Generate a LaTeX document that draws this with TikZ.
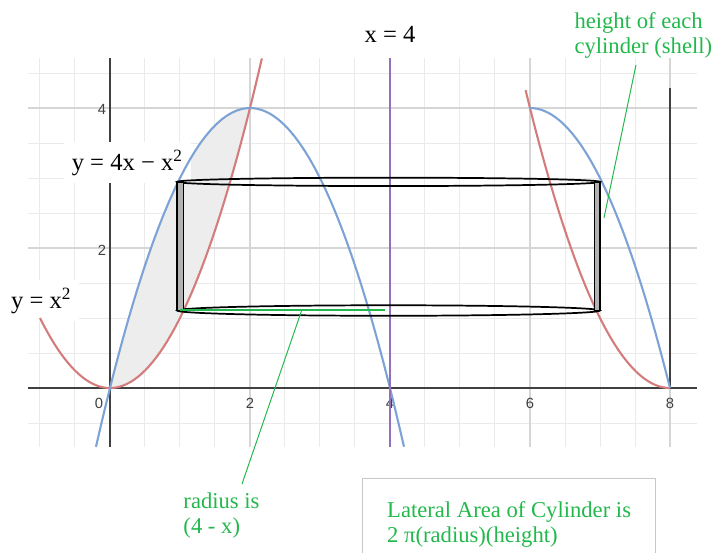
\documentclass[tikz,border=0pt]{standalone}
\usepackage{fontspec}
\setmainfont{Liberation Serif}
\newfontfamily\ticksans{Liberation Sans}
\usepackage{tikz}
\usetikzlibrary{positioning}
\definecolor{curvered}{RGB}{212,124,124}
\definecolor{curveblue}{RGB}{124,162,214}
\definecolor{linepurple}{RGB}{148,112,188}
\definecolor{notegreen}{RGB}{34,184,76}
\definecolor{gridminor}{RGB}{234,234,234}
\definecolor{gridmajor}{RGB}{214,214,214}
\definecolor{regionfill}{RGB}{237,237,237}
\definecolor{boxline}{RGB}{200,200,200}

\begin{document}
\begin{tikzpicture}[
  lbl/.style={font=\fontsize{10}{11}\selectfont,inner sep=1pt},
  eqlbl/.style={lbl,fill=white,inner sep=3pt},
  note/.style={text=notegreen,font=\fontsize{9.2}{10.3}\selectfont,align=left,inner sep=0pt},
  tick/.style={font=\ticksans\fontsize{6}{7}\selectfont,text=black!75,inner sep=0pt},
  crv/.style={line width=0.85pt},
  pointer/.style={notegreen,line width=0.4pt},
  shell/.style={draw=black,line width=0.7pt},
  wall/.style={shell,fill=black!30}
]
\useasboundingbox (-1.571,-2.343) rectangle (8.586,5.543);

% grid, region, axes
\draw[gridminor,line width=0.4pt,step=0.5] (-1.17,-0.84) grid (8.39,4.71);
\draw[gridmajor,line width=0.5pt,step=2] (-1.17,-0.84) grid (8.39,4.71);
\fill[regionfill] plot[domain=0:2,samples=40] (\x,{4*\x-\x*\x})
  -- plot[domain=2:0,samples=40] (\x,{\x*\x}) -- cycle;
\draw[black!75,line width=0.5pt] (-1.17,0) -- (8.39,0) (0,-0.84) -- (0,4.71);
\draw[black!75,line width=0.5pt] (8,0) -- (8,4.29);

\node[tick] (xt0) at (-0.157,-0.214) {0};
\foreach \t in {2,4,6,8}
  \node[tick] (xt\t) at (\t,-0.214) {\t};
\node[tick] (yt2) at (-0.114,1.97) {2};
\node[tick] (yt4) at (-0.114,3.986) {4};

\node[eqlbl,anchor=base] (eqblue) at (0.25,3.114) {y = 4x − x\textsuperscript{2}};
\node[eqlbl,anchor=base] (eqred) at (-0.979,1.143) {y = x\textsuperscript{2}};

% curves
\draw[crv,curvered] plot[domain=-1:2.17,samples=60] (\x,{\x*\x});
\draw[crv,curveblue] plot[domain=-0.2:4.2,samples=60] (\x,{4*\x-\x*\x});
\draw[crv,curvered] plot[domain=5.937:8,samples=40] (\x,{(8-\x)^2});
\draw[crv,curveblue] plot[domain=6:8,samples=40] (\x,{4*(8-\x)-(8-\x)^2});
\draw[linepurple,line width=0.9pt] (4,-0.84) -- (4,4.71);
\node[lbl,anchor=base] (xfour) at (4,4.93) {x = 4};

% shell
\draw[shell] (3.98,2.945) ellipse (3.02 and 0.06);
\draw[shell] (3.98,1.107) ellipse (3.02 and 0.075);
\draw[wall] (0.96,1.107) rectangle (1.05,2.945);
\draw[wall] (6.92,1.107) rectangle (7.0,2.945);

\coordinate (radin) at (1,1.114);
\coordinate (radout) at (3.93,1.114);
\draw[pointer,line width=0.8pt] (radin) -- (radout);

% notes
\node[note,anchor=north west] (radlbl) at (1.043,-1.49) {radius is\\(4 - x)};
\coordinate (radpick) at (2.74,1.114);
\coordinate (radtip) at (1.886,-1.371);
\draw[pointer] (radpick) -- (radtip);

\node[note,anchor=north west] (heightlbl) at (6.629,5.37) {height of each\\cylinder (shell)};
\coordinate (hgtpick) at (7.057,2.429);
\coordinate (hgttip) at (7.514,4.614);
\draw[pointer] (hgttip) -- (hgtpick);

\node[note,draw=boxline,line width=0.5pt,anchor=north west,minimum width=4.186cm,
      minimum height=1.3cm,inner xsep=0.35cm] (areabox) at (3.6,-1.286)
  {Lateral Area of Cylinder is\\2 π(radius)(height)};
\end{tikzpicture}
\end{document}
